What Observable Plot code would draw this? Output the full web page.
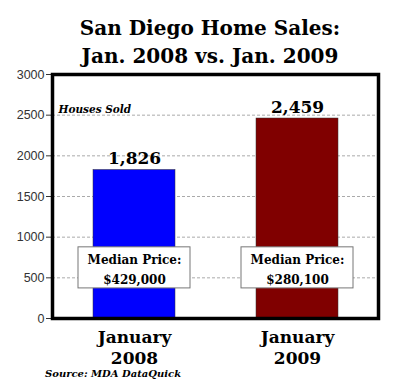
<!DOCTYPE html>
<html><head><meta charset="utf-8">
<script src="https://cdn.jsdelivr.net/npm/d3@7"></script>
<script src="https://cdn.jsdelivr.net/npm/@observablehq/plot@0.6"></script>
<style>
body{margin:0;background:#fff;width:400px;height:389px;overflow:hidden;position:relative;}
#title{font-family:"DejaVu Serif",serif;font-weight:bold;font-size:20px;line-height:28px;text-align:center;padding:14px 0 0 20px;height:46px;color:#000;}
#caption{position:absolute;left:45px;top:368px;font-family:"DejaVu Serif",serif;font-weight:bold;font-style:italic;font-size:10px;color:#000;}
</style></head>
<body>
<div id="title">San Diego Home Sales:<br>Jan. 2008 vs. Jan. 2009</div>
<div id="chart"></div>
<div id="caption">Source: MDA DataQuick</div>
<script>
const periods = ["January\n2008", "January\n2009"];
const housesSold = [1826, 2459];
const medianPrices = ["$429,000", "$280,100"];
const yTicks = [0, 500, 1000, 1500, 2000, 2500, 3000];
const barColors = ["#0000ff", "#800000"];

const data = periods.map((p, i) => ({period: p, sold: housesSold[i], price: medianPrices[i]}));
const serif = "DejaVu Serif, serif";

const chart = Plot.plot({
  width: 400,
  height: 329,
  marginTop: 14,
  marginBottom: 71,
  marginLeft: 52,
  marginRight: 22,
  style: {background: "#fff"},
  x: {domain: periods, paddingInner: 0.5, paddingOuter: 0.25, label: null},
  y: {domain: [0, 3000], label: null},
  color: {domain: periods, range: barColors},
  marks: [
    Plot.gridY(yTicks.slice(1, -1), {stroke: "#aaa", strokeOpacity: 1, strokeDasharray: "3,2"}),
    Plot.barY(data, {x: "period", y: "sold", fill: "period", stroke: "#333", strokeWidth: 0.5}),
    Plot.text(data, {x: "period", y: "sold", text: d => d3.format(",")(d.sold), dy: -11, fontFamily: serif, fontWeight: "bold", fontSize: 17, fill: "#000"}),
    Plot.barY(data, {x: "period", y1: 370, y2: 875, insetLeft: -15, insetRight: -15, fill: "#fff", stroke: "#777", strokeWidth: 1}),
    Plot.text(data, {x: "period", y: 622, text: d => "Median Price:\n" + d.price, fontFamily: serif, fontWeight: "bold", fontSize: 12, lineHeight: 1.6, fill: "#000"}),
    Plot.text(["Houses Sold"], {y: () => 2570, frameAnchor: "left", textAnchor: "start", dx: 6, text: d => d, fontFamily: serif, fontWeight: "bold", fontStyle: "italic", fontSize: 10.5, fill: "#000"}),
    Plot.axisY({ticks: yTicks, tickFormat: d => String(d), tickSize: 6, tickPadding: 2, fontSize: 12.5, fontFamily: "Liberation Sans, Arial, sans-serif", color: "#333"}),
    Plot.axisX({tickSize: 0, tickPadding: 9, fontSize: 17, lineHeight: 1.25, fontFamily: serif, fontWeight: "bold", fill: "#000"}),
    Plot.frame({stroke: "#000", strokeWidth: 3.5})
  ]
});
document.getElementById("chart").appendChild(chart);
</script>
</body></html>
